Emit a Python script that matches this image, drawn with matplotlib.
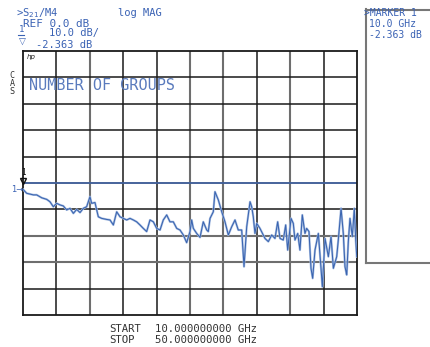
import matplotlib
matplotlib.use("Agg")
import matplotlib.pyplot as plt
from matplotlib.lines import Line2D

# ---- data ----
freq_ghz = [10.0, 10.44, 11.24, 11.64, 12.24, 12.84, 13.23, 13.63, 14.03, 14.43, 14.83, 15.23,
            15.63, 16.03, 16.43, 16.83, 17.22, 17.62, 17.82, 18.02, 18.22, 18.62, 19.02, 19.42,
            20.02, 20.42, 20.82, 21.22, 21.62, 22.01, 22.42, 22.81, 23.21, 23.61, 24.01, 24.41,
            24.81, 25.21, 25.61, 26.01, 26.41, 26.80, 27.21, 27.60, 28.00, 28.41, 28.80, 29.20,
            29.60, 30.00, 30.20, 30.40, 30.80, 31.20, 31.59, 32.00, 32.19, 32.40, 32.79, 32.99,
            33.39, 33.80, 34.19, 34.59, 34.99, 35.39, 35.78, 36.19, 36.47, 36.79, 37.19, 37.39,
            37.58, 37.78, 37.99, 38.38, 38.98, 39.38, 39.78, 40.18, 40.50, 40.78, 41.17, 41.46,
            41.70, 42.10, 42.37, 42.57, 42.90, 43.17, 43.45, 43.77, 43.97, 44.25, 44.49, 44.69,
            44.97, 45.37, 45.69, 45.85, 46.17, 46.57, 46.89, 47.17, 47.57, 47.76, 48.09, 48.36,
            48.56, 48.77, 48.96, 49.16, 49.44, 49.68, 49.85, 49.97]
s21_db = [-2.4, -3.9, -4.5, -4.5, -5.6, -6.2, -7.1, -9.0, -7.7, -8.3, -8.7, -10.2,
          -9.6, -11.5, -10.0, -11.2, -9.6, -9.0, -7.1, -5.2, -7.7, -7.4, -12.8, -13.4,
          -13.8, -14.0, -15.9, -10.9, -12.8, -13.4, -14.0, -13.4, -14.0, -14.7, -15.9, -17.2,
          -18.4, -14.0, -14.7, -17.2, -17.8, -14.0, -12.1, -14.7, -14.7, -17.2, -17.8, -19.7,
          -22.6, -18.4, -14.0, -17.2, -19.1, -20.6, -14.7, -17.8, -18.4, -13.4, -10.9, -3.3,
          -6.4, -10.9, -14.7, -19.7, -16.6, -14.0, -17.8, -17.8, -31.7, -16.6, -7.1, -9.0,
          -12.8, -19.1, -15.3, -17.2, -21.0, -22.2, -19.7, -21.0, -14.7, -21.0, -21.6, -15.9,
          -25.4, -13.4, -15.3, -21.6, -19.1, -25.4, -12.1, -19.1, -17.2, -18.4, -32.3, -36.1,
          -25.4, -19.1, -32.3, -39.3, -21.0, -27.9, -20.3, -32.3, -27.9, -21.6, -9.6, -19.1,
          -31.7, -34.8, -22.2, -13.4, -20.3, -9.6, -21.6, -27.9]

start_ghz = 10.0
stop_ghz = 50.0
ref_db = 0.0
scale_db = 10.0
x_divs = 10
y_divs = 10

W, H = 430, 347
fig = plt.figure(figsize=(W / 100, H / 100), dpi=100)
fig.patch.set_facecolor("white")

def fx(px):
    return px / W

def fy(py):
    return 1 - py / H

L, R, T, B = 23, 357, 51, 315
ax = fig.add_axes([fx(L), fy(B), fx(R) - fx(L), fy(T) - fy(B)])
ax.set_xlim(start_ghz, stop_ghz)
ax.set_ylim(ref_db - scale_db * y_divs / 2, ref_db + scale_db * y_divs / 2)
ax.set_xticks([])
ax.set_yticks([])
for s in ax.spines.values():
    s.set_color("#1a1a1a")
    s.set_linewidth(1.3)

step_x = (stop_ghz - start_ghz) / x_divs
gray_v = {2, 5, 6, 8}
for i in range(1, x_divs):
    ax.axvline(start_ghz + i * step_x, color="#6e6e6e" if i in gray_v else "#1a1a1a",
               lw=1.5 if i in gray_v else 1.1, zorder=1)
gray_h = {7, 8}
ylo = ref_db - scale_db * y_divs / 2
for j in range(1, y_divs):
    ax.axhline(ylo + j * scale_db, color="#6e6e6e" if (y_divs - j) in gray_h else "#1a1a1a",
               lw=1.5 if (y_divs - j) in gray_h else 1.1, zorder=1)

# reference line
ax.axhline(ref_db, color="#4a6fb5", lw=1.1, zorder=2)

# trace
ax.plot(freq_ghz, s21_db, color="#a9bfe2", lw=1.6, zorder=3, solid_joinstyle="round")
ax.plot(freq_ghz, s21_db, color="#3a64b0", lw=0.75, zorder=4)

# marker
ax.plot([start_ghz], [ref_db + 0.6], marker="v", ms=5, mfc="none", mec="#111111",
        mew=1.0, zorder=5, clip_on=False)
ax.text(start_ghz, ref_db + 2.2, "1", ha="center", va="bottom", fontsize=5.5,
        family="DejaVu Sans Mono", color="#111111", zorder=5)

blue = "#3a62b4"
mono = "DejaVu Sans Mono"
fs = 7.5

fig.text(fx(16), fy(13), ">S$_{21}$/M4", fontsize=fs, family=mono, color=blue, va="center")
fig.text(fx(118), fy(13), "log MAG", fontsize=fs, family=mono, color=blue, va="center")
fig.text(fx(23), fy(24), "REF 0.0 dB", fontsize=7.9, family=mono, color=blue, va="center")
fig.text(fx(19), fy(30), "1", fontsize=6.5, family=mono, color=blue, va="center")
fig.add_artist(Line2D([fx(18), fx(24)], [fy(35), fy(35)], color=blue, lw=0.8))
fig.text(fx(49), fy(33), "10.0 dB/", fontsize=fs, family=mono, color=blue, va="center")
fig.text(fx(19), fy(42), "▽", fontsize=6.5, family="DejaVu Sans", color=blue, va="center")
fig.text(fx(36), fy(45), "-2.363 dB", fontsize=fs, family=mono, color=blue, va="center")

fig.text(fx(27), fy(57), "hp", fontsize=5, family="DejaVu Sans", style="italic",
         color="#222222", va="center")
for k, ch in enumerate("CAS"):
    fig.text(fx(12), fy(75 + 8 * k), ch, fontsize=6, family=mono, color="#333333",
             va="center", ha="center")

fig.text(fx(29), fy(85), "NUMBER OF GROUPS", fontsize=10.9, family=mono, color="#5a7bbd",
         va="center")

fig.text(fx(11), fy(190), "1→", fontsize=6, family="DejaVu Sans", color=blue, va="center")

# right marker box
box_c = "#777777"
fig.add_artist(Line2D([fx(366), fx(366)], [fy(9), fy(263)], color=box_c, lw=1.5))
fig.add_artist(Line2D([fx(366), fx(430)], [fy(9.5), fy(9.5)], color=box_c, lw=1.5))
fig.add_artist(Line2D([fx(366), fx(430)], [fy(263), fy(263)], color=box_c, lw=1.5))
fig.text(fx(364), fy(13), ">MARKER 1", fontsize=7, family=mono, color=blue, va="center")
fig.text(fx(369), fy(24), "10.0 GHz", fontsize=7, family=mono, color=blue, va="center")
fig.text(fx(369), fy(35), "-2.363 dB", fontsize=7, family=mono, color=blue, va="center")

gray_t = "#333333"
fig.text(fx(109), fy(329), "START", fontsize=7.7, family=mono, color=gray_t, va="center")
fig.text(fx(155), fy(329), "10.000000000 GHz", fontsize=7.7, family=mono, color=gray_t,
         va="center")
fig.text(fx(109), fy(340), "STOP", fontsize=7.7, family=mono, color=gray_t, va="center")
fig.text(fx(155), fy(340), "50.000000000 GHz", fontsize=7.7, family=mono, color=gray_t,
         va="center")

fig.savefig("out.png", dpi=100, facecolor="white")
